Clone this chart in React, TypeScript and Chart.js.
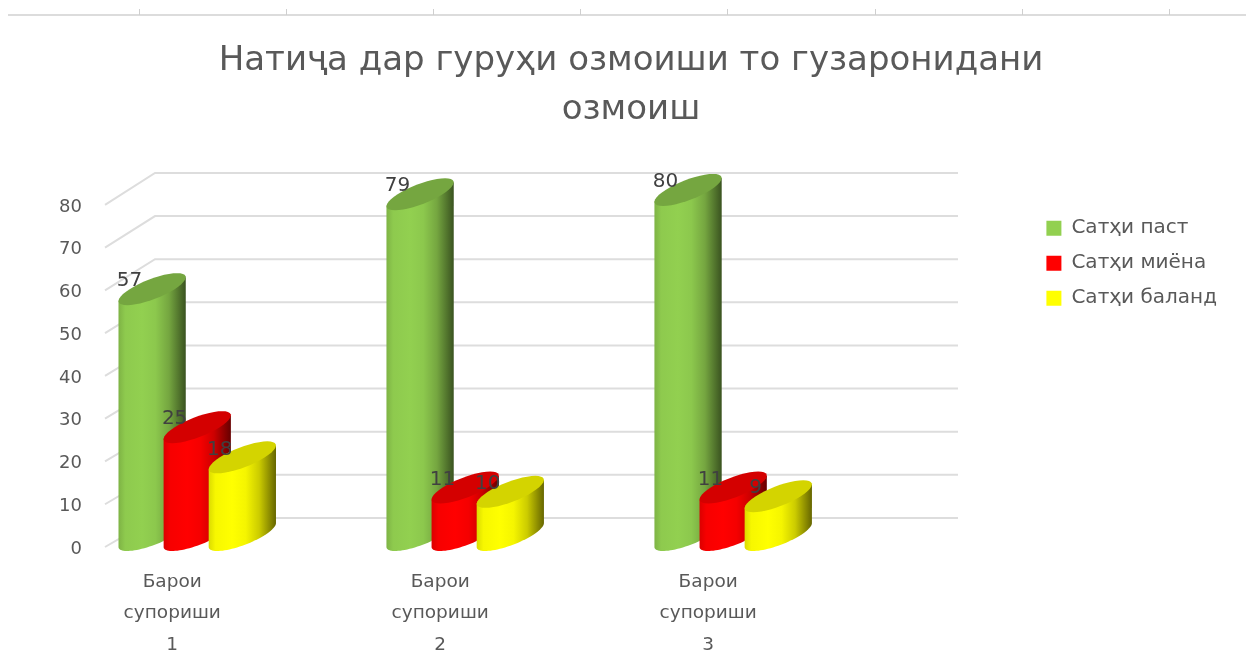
import React, { useEffect, useRef } from "react";
import { Chart, registerables } from "chart.js";

Chart.register(...registerables);

const categories = [["Барои", "супориши", "1"], ["Барои", "супориши", "2"], ["Барои", "супориши", "3"]];
const seriesNames = ["Сатҳи паст", "Сатҳи миёна", "Сатҳи баланд"];
const lowValues = [57, 79, 80];
const midValues = [25, 11, 11];
const highValues = [18, 10, 9];
const seriesColors = ["#92d050", "#ff0000", "#ffff00"];
const titleLines = ["Натиҷа дар гуруҳи озмоиши то гузаронидани", "озмоиш"];

const FONT = "'DejaVu Sans', 'Noto Sans', sans-serif";
const TEXT = "#595959";

function shade(hex: string, k: number) {
  const n = parseInt(hex.slice(1), 16);
  const r = Math.round(((n >> 16) & 255) * k);
  const g = Math.round(((n >> 8) & 255) * k);
  const b = Math.round((n & 255) * k);
  return `rgb(${r},${g},${b})`;
}

const UX = 22.5;
const VX = 25;
const VY = -16;
const SHIFT_X = -18.75;
const FRONT_DROP = 17;

function ellipsePath(ctx: CanvasRenderingContext2D, cx: number, cy: number, a0: number, a1: number) {
  const steps = 40;
  for (let i = 0; i <= steps; i++) {
    const t = a0 + ((a1 - a0) * i) / steps;
    ctx.lineTo(cx + UX * Math.cos(t) + VX * Math.sin(t), cy + VY * Math.sin(t));
  }
}

const scenePlugin = {
  id: "scene",
  beforeDatasetsDraw(chart: any) {
    const { ctx, scales } = chart;
    ctx.save();
    // ruler strip at the top of the page
    ctx.strokeStyle = "#dcdcdc";
    ctx.lineWidth = 2;
    ctx.beginPath();
    ctx.moveTo(8, 15);
    ctx.lineTo(1246, 15);
    ctx.stroke();
    ctx.lineWidth = 1;
    ctx.strokeStyle = "#cfcfcf";
    for (let x = 138.5; x < 1246; x += 147.2) {
      ctx.beginPath();
      ctx.moveTo(Math.round(x) + 0.5, 9);
      ctx.lineTo(Math.round(x) + 0.5, 15);
      ctx.stroke();
    }
    // 3D wall grid
    ctx.strokeStyle = "#dddddd";
    ctx.lineWidth = 2;
    scales.y.ticks.forEach((t: any) => {
      const front = scales.y.getPixelForValue(t.value);
      const back = scales.yWall.getPixelForValue(t.value);
      ctx.beginPath();
      ctx.moveTo(105, front);
      ctx.lineTo(155, back);
      ctx.lineTo(958, back);
      ctx.stroke();
    });
    ctx.restore();
  },
  beforeDatasetDraw() {
    return false;
  },
  afterDatasetsDraw(chart: any) {
    const { ctx } = chart;
    const t0 = Math.atan2(VX, UX);
    const halfW = Math.hypot(UX, VX);
    const labels: any[] = [];
    ctx.save();
    chart.data.datasets.forEach((ds: any, di: number) => {
      const meta = chart.getDatasetMeta(di);
      meta.data.forEach((bar: any, i: number) => {
        const cx = bar.x + SHIFT_X;
        const top = bar.y + FRONT_DROP;
        const bottom = bar.base + FRONT_DROP;
        const left = cx - halfW;
        const color = seriesColors[di];
        const grad = ctx.createLinearGradient(left, 0, cx + halfW, 0);
        grad.addColorStop(0, shade(color, 0.86));
        grad.addColorStop(0.1, shade(color, 0.97));
        grad.addColorStop(0.35, shade(color, 1));
        grad.addColorStop(0.55, shade(color, 0.96));
        grad.addColorStop(0.75, shade(color, 0.8));
        grad.addColorStop(1, shade(color, 0.4));
        ctx.beginPath();
        ctx.moveTo(left, bottom - VY * Math.sin(t0));
        ctx.lineTo(left, top - VY * Math.sin(t0));
        ctx.lineTo(cx + halfW, top + VY * Math.sin(t0));
        ctx.lineTo(cx + halfW, bottom + VY * Math.sin(t0));
        ellipsePath(ctx, cx, bottom, t0, t0 - Math.PI);
        ctx.closePath();
        ctx.fillStyle = grad;
        ctx.fill();
        // cap
        ctx.beginPath();
        ellipsePath(ctx, cx, top, 0, Math.PI * 2);
        ctx.closePath();
        ctx.fillStyle = shade(color, di === 0 ? 0.8 : 0.83);
        ctx.fill();
        labels.push({ text: String(ds.data[i]), x: left + 11, y: top - 8 });
      });
    });
    ctx.fillStyle = "#404040";
    ctx.font = `20px ${FONT}`;
    ctx.textAlign = "center";
    ctx.textBaseline = "middle";
    labels.forEach((l) => ctx.fillText(l.text, l.x, l.y));
    ctx.restore();
  },
};

export default function App() {
  const ref = useRef<HTMLCanvasElement | null>(null);
  useEffect(() => {
    const chart = new Chart(ref.current as HTMLCanvasElement, {
      type: "bar",
      data: {
        labels: categories as any,
        datasets: [
          { label: seriesNames[0], data: lowValues, backgroundColor: seriesColors[0], yAxisID: "yWall", borderWidth: 0 },
          { label: seriesNames[1], data: midValues, backgroundColor: seriesColors[1], yAxisID: "yWall", borderWidth: 0 },
          { label: seriesNames[2], data: highValues, backgroundColor: seriesColors[2], yAxisID: "yWall", borderWidth: 0 },
        ],
      },
      options: {
        responsive: false,
        animation: false,
        devicePixelRatio: 1,
        layout: { padding: { left: 35, right: 19, top: 0, bottom: 0 } },
        datasets: { bar: { categoryPercentage: 0.505, barPercentage: 1 } },
        plugins: {
          tooltip: { enabled: false },
          title: {
            display: true,
            text: titleLines,
            color: TEXT,
            font: { family: FONT, size: 34, weight: "normal", lineHeight: 1.44 },
            padding: { top: 37, bottom: 70 },
          },
          legend: {
            position: "right",
            align: "start",
            title: { display: true, text: " ", font: { size: 1 }, padding: { top: 202, bottom: 0 } },
            labels: {
              color: TEXT,
              boxWidth: 15,
              boxHeight: 15,
              padding: 15,
              font: { family: FONT, size: 20 },
            },
          },
        },
        scales: {
          x: {
            grid: { display: false, drawTicks: false },
            border: { display: false },
            ticks: {
              color: TEXT,
              padding: 19,
              labelOffset: -43.75,
              maxRotation: 0,
              autoSkip: false,
              font: { family: FONT, size: 18.5, lineHeight: 1.71 },
            },
            afterFit: (s: any) => { s.height = 125; },
          },
          y: {
            position: "left",
            min: 0,
            max: 80,
            grid: { display: false, drawTicks: false },
            border: { display: false },
            ticks: {
              stepSize: 10,
              color: TEXT,
              padding: 0,
              labelOffset: 2,
              font: { family: FONT, size: 18 },
            },
            afterFit: (s: any) => { s.width = 47; },
          },
          yWall: {
            position: "right",
            min: -6.72,
            max: 72.58,
            grid: { display: false, drawTicks: false },
            border: { display: false },
            ticks: { display: false },
            afterFit: (s: any) => { s.width = 145.5; },
          },
        },
      } as any,
      plugins: [scenePlugin as any],
    });
    return () => chart.destroy();
  }, []);
  return (
    <canvas
      ref={ref}
      width={1246}
      height={672}
      style={{ position: "absolute", left: 0, top: 0, width: 1246, height: 672, filter: "blur(0.5px)" }}
    />
  );
}
